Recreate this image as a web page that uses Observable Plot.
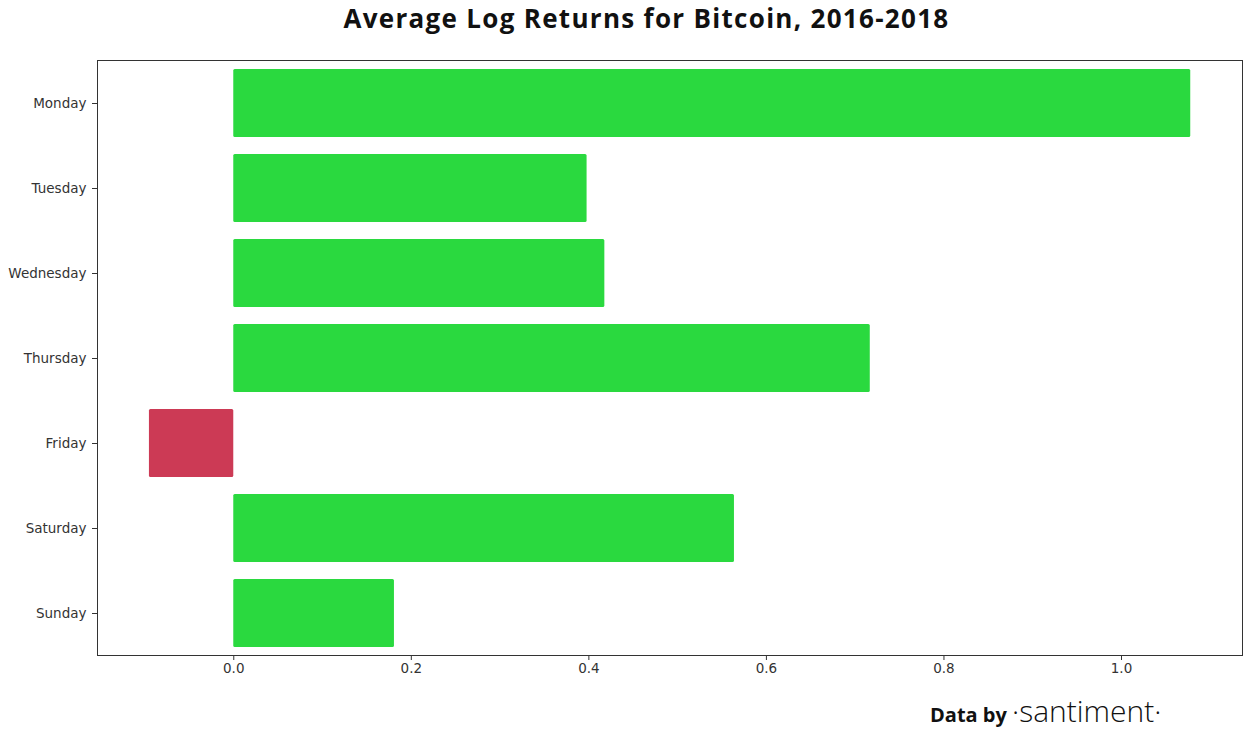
<!DOCTYPE html>
<html>
<head>
<meta charset="utf-8">
<script src="https://cdn.jsdelivr.net/npm/d3@7"></script>
<script src="https://cdn.jsdelivr.net/npm/@observablehq/plot@0.6"></script>
<style>
  html, body { margin: 0; padding: 0; background: #fff; overflow: hidden; }
  #title { height: 45px; width: 1255px; box-sizing: border-box; padding-left: 38px; text-align: center;
           font: 700 26px "Open Sans", Lato, sans-serif; line-height: 36px; color: #111; letter-spacing: 1.3px; }
  #chart svg { display: block; }
  #caption { position: absolute; left: 930px; bottom: 1px; white-space: nowrap; color: #111;
             font: 300 30px "Open Sans", Lato, sans-serif; line-height: normal; }
  #caption .a { font: 700 20px "Open Sans", Lato, sans-serif; }
  #caption .b { font: 300 30px "Open Sans", Lato, sans-serif; }
</style>
</head>
<body>
<div id="title">Average Log Returns for Bitcoin, 2016-2018</div>
<div id="chart"></div>
<div id="caption"><span class="a">Data by </span><span class="b">·santiment·</span></div>
<script>
const days = ["Monday", "Tuesday", "Wednesday", "Thursday", "Friday", "Saturday", "Sunday"];
const returns = [1.078, 0.398, 0.418, 0.717, -0.095, 0.564, 0.181];
const xTicks = [0.0, 0.2, 0.4, 0.6, 0.8, 1.0];

const data = days.map((d, i) => ({day: d, value: returns[i]}));

const chart = Plot.plot({
  width: 1255,
  height: 650,
  marginTop: 15,
  marginBottom: 40,
  marginLeft: 97,
  marginRight: 13,
  style: {fontFamily: "DejaVu Sans", fontSize: "13.5px", color: "#333", background: "#fff"},
  x: {domain: [-0.1535, 1.1363], ticks: xTicks, tickFormat: d3.format(".1f"), label: null, tickSize: 5, tickPadding: 3},
  y: {domain: days, paddingInner: 0.2, paddingOuter: 0.1, label: null, tickSize: 5, tickPadding: 6},
  marks: [
    Plot.barX(data, {x: "value", y: "day", fill: d => d.value >= 0 ? "#2ad93f" : "#cc3a55", rx: 1.5}),
    Plot.frame({stroke: "#333", strokeWidth: 1})
  ]
});
document.getElementById("chart").appendChild(chart);
</script>
</body>
</html>
